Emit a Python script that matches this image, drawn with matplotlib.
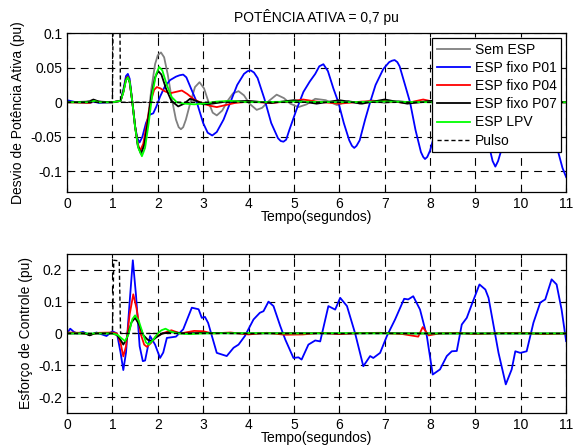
import numpy as np
from matplotlib import pyplot as plt

plt.rcParams['font.family'] = ['Liberation Sans', 'DejaVu Sans']

# ---- desvio de potencia ativa (painel de cima) ----
t_sem = [0, 0.4, 0.55, 0.65, 0.8, 1.0, 1.18, 1.24, 1.3, 1.34, 1.38, 1.44, 1.5, 1.56, 1.63, 1.7, 1.78, 1.86,
         1.94, 2.0, 2.07, 2.14, 2.22, 2.3, 2.4, 2.46, 2.51, 2.56, 2.62, 2.72, 2.82, 2.92, 3.02, 3.12, 3.21,
         3.3, 3.42, 3.55, 3.66, 3.78, 3.9, 4.02, 4.18, 4.3, 4.45, 4.62, 4.78, 4.92, 5.1, 5.28, 5.47, 5.7,
         5.95, 6.2, 6.45, 6.7, 7.0, 7.3, 7.6, 8.0, 8.5, 9.0, 9.5, 10.0, 10.5, 11.0]
p_sem = [0, 0, 0.003, 0.002, 0, 0, 0.002, 0.015, 0.034, 0.038, 0.03, 0.0, -0.035, -0.062, -0.075, -0.062,
         -0.025, 0.02, 0.055, 0.068, 0.072, 0.065, 0.04, 0.008, -0.025, -0.036, -0.039, -0.036, -0.025, 0.0,
         0.022, 0.029, 0.02, 0.0, -0.015, -0.019, -0.012, 0.003, 0.013, 0.016, 0.01, -0.002, -0.011, -0.008,
         0.002, 0.011, 0.006, -0.002, -0.007, -0.003, 0.005, 0.003, -0.004, 0.002, -0.002, 0.003, -0.001,
         0.002, -0.001, 0.001, 0, 0.001, 0, 0, 0, 0]

t_p01 = [0, 0.2, 0.5, 0.6, 0.7, 1.0, 1.18, 1.24, 1.3, 1.34, 1.38, 1.44, 1.5, 1.55, 1.6, 1.66, 1.74, 1.82,
         1.9, 1.97, 2.05, 2.15, 2.27, 2.4, 2.48, 2.56, 2.63, 2.7, 2.86, 3.0, 3.1, 3.2, 3.3, 3.45, 3.6, 3.75,
         3.9, 3.98, 4.05, 4.12, 4.2, 4.35, 4.5, 4.65, 4.71, 4.77, 4.83, 4.9, 5.05, 5.21, 5.35, 5.47, 5.56,
         5.65, 5.75, 5.87, 5.98, 6.1, 6.22, 6.28, 6.33, 6.38, 6.45, 6.57, 6.68, 6.8, 6.97, 7.1, 7.16, 7.22,
         7.28, 7.33, 7.45, 7.56, 7.68, 7.8, 7.85, 7.89, 7.94, 8.0, 8.15, 8.3, 8.5, 8.68, 8.85, 9.0, 9.15,
         9.29, 9.38, 9.44, 9.5, 9.55, 9.65, 9.8, 10.0, 10.2, 10.35, 10.5, 10.65, 10.83, 10.92, 11.0]
p_p01 = [0.003, 0.0, -0.001, 0.001, -0.001, 0.0, 0.002, 0.018, 0.038, 0.041, 0.034, 0.0, -0.035, -0.052,
         -0.058, -0.05, -0.03, -0.018, -0.016, -0.006, 0.008, 0.022, 0.032, 0.037, 0.039, 0.040, 0.036,
         0.025, 0.0, -0.03, -0.044, -0.048, -0.043, -0.025, 0.0, 0.025, 0.041, 0.045, 0.046, 0.043, 0.035,
         0.005, -0.03, -0.052, -0.056, -0.057, -0.054, -0.04, -0.012, 0.015, 0.03, 0.041, 0.052, 0.055, 0.045,
         0.02, 0.0, -0.03, -0.055, -0.063, -0.066, -0.063, -0.055, -0.025, 0.0, 0.025, 0.048, 0.058, 0.060,
         0.061, 0.058, 0.052, 0.025, 0.0, -0.04, -0.072, -0.079, -0.082, -0.079, -0.07, -0.035, 0.0, 0.045,
         0.066, 0.06, 0.03, -0.02, -0.06, -0.085, -0.093, -0.085, -0.074, -0.055, -0.02, 0.035, 0.072, 0.08,
         0.06, 0.005, -0.073, -0.095, -0.108]

t_p04 = [0, 0.5, 0.6, 0.7, 1.0, 1.18, 1.24, 1.3, 1.34, 1.38, 1.44, 1.5, 1.56, 1.61, 1.68, 1.76, 1.84, 1.92,
         1.98, 2.06, 2.15, 2.27, 2.4, 2.53, 2.65, 2.8, 3.0, 3.15, 3.3, 3.5, 3.7, 4.0, 4.5, 5.0, 5.2, 5.5, 6.0,
         6.5, 7.0, 7.5, 7.85, 8.2, 9.0, 10.0, 11.0]
p_p04 = [0, -0.001, 0.002, 0, 0, 0.002, 0.015, 0.034, 0.037, 0.03, 0.0, -0.035, -0.06, -0.07, -0.06, -0.03,
         0.0, 0.018, 0.022, 0.02, 0.016, 0.013, 0.015, 0.017, 0.012, 0.004, -0.002, -0.005, -0.007, -0.004,
         -0.001, 0.001, -0.001, 0.002, 0.004, 0.001, -0.002, 0.001, 0.002, -0.001, 0.004, -0.001, 0.001, 0, 0]

t_p07 = [0, 0.5, 0.58, 0.7, 1.0, 1.18, 1.24, 1.3, 1.34, 1.38, 1.44, 1.5, 1.56, 1.63, 1.7, 1.78, 1.86, 1.94,
         2.01, 2.08, 2.18, 2.3, 2.45, 2.58, 2.71, 2.85, 3.0, 3.2, 3.5, 4.0, 4.5, 5.0, 5.5, 6.0, 6.5, 7.0, 7.5,
         8.0, 9.0, 10.0, 11.0]
p_p07 = [0, 0.001, 0.004, 0.001, 0, 0.002, 0.015, 0.033, 0.036, 0.029, 0, -0.035, -0.063, -0.074, -0.062,
         -0.028, 0.01, 0.036, 0.045, 0.04, 0.02, 0.002, -0.006, -0.002, 0.005, 0.002, -0.003, -0.002, 0.001,
         0.002, -0.001, 0.003, -0.002, 0.003, -0.002, 0.004, -0.002, 0.002, 0, 0, 0]

t_lpv = [0, 0.5, 0.6, 0.7, 1.0, 1.18, 1.24, 1.3, 1.34, 1.38, 1.44, 1.5, 1.57, 1.65, 1.72, 1.8, 1.88, 1.96,
         2.03, 2.1, 2.2, 2.3, 2.42, 2.6, 2.8, 3.0, 3.3, 3.6, 4, 5, 6, 7, 8, 9, 10, 11]
p_lpv = [0, 0, 0.002, 0, 0, 0.002, 0.014, 0.032, 0.036, 0.03, 0.0, -0.036, -0.066, -0.078, -0.066, -0.03,
         0.012, 0.04, 0.051, 0.046, 0.025, 0.008, 0.0, -0.002, -0.003, -0.002, 0.001, 0.002, 0, 0.001, 0,
         0.001, 0, 0, 0, 0]

t_pulso = [0, 1.0, 1.03, 1.15, 1.18, 11]
v_pulso = [0, 0, 0.23, 0.228, 0, 0]

# ---- esforco de controle (painel de baixo) ----
t_u01 = [0, 0.07, 0.15, 0.22, 0.35, 0.5, 0.65, 0.87, 1.0, 1.1, 1.18, 1.24, 1.3, 1.37, 1.45, 1.52, 1.6, 1.67,
         1.72, 1.83, 1.94, 2.05, 2.12, 2.2, 2.4, 2.56, 2.75, 2.9, 2.97, 3.04, 3.11, 3.3, 3.52, 3.67, 3.78,
         3.92, 4.11, 4.25, 4.33, 4.44, 4.55, 4.7, 4.81, 4.99, 5.1, 5.17, 5.32, 5.47, 5.58, 5.76, 5.91, 6.02,
         6.17, 6.35, 6.53, 6.68, 6.75, 6.9, 7.05, 7.23, 7.43, 7.52, 7.63, 7.78, 7.93, 8.06, 8.22, 8.37, 8.48,
         8.59, 8.7, 8.81, 8.92, 9.09, 9.22, 9.29, 9.51, 9.67, 9.8, 9.88, 9.99, 10.13, 10.28, 10.43, 10.54,
         10.68, 10.79, 10.9, 11.0]
u_u01 = [0.0, 0.015, 0.005, 0.0, 0.005, -0.005, 0.003, -0.008, 0.007, 0.0, -0.06, -0.115, -0.06, 0.08,
         0.23, 0.12, -0.04, -0.087, -0.085, -0.008, -0.035, -0.077, -0.06, -0.014, -0.01, 0.013, 0.081, 0.076,
         0.049, 0.052, 0.033, -0.061, -0.071, -0.045, -0.035, -0.008, 0.044, 0.065, 0.07, 0.1, 0.086, 0.023,
         -0.019, -0.077, -0.075, -0.082, -0.035, -0.022, -0.025, 0.086, 0.075, 0.112, 0.086, 0.0, -0.103,
         -0.071, -0.077, -0.061, -0.008, 0.044, 0.109, 0.107, 0.117, 0.075, -0.008, -0.129, -0.113, -0.071,
         -0.056, -0.055, 0.028, 0.049, 0.091, 0.154, 0.138, 0.112, -0.061, -0.16, -0.113, -0.056, -0.061,
         -0.056, 0.034, 0.097, 0.107, 0.17, 0.154, 0.075, -0.024]

t_u04 = [0, 0.3, 0.5, 0.7, 1.0, 1.1, 1.18, 1.24, 1.3, 1.38, 1.46, 1.53, 1.62, 1.7, 1.76, 1.85, 1.95, 2.1,
         2.3, 2.5, 2.8, 3.0, 3.2, 3.6, 4.0, 4.4, 4.8, 5.2, 5.6, 6.0, 6.4, 6.9, 7.4, 7.74, 7.84, 7.97, 8.2, 8.6,
         9.0, 9.5, 10.0, 10.5, 11]
u_u04 = [0.003, 0.002, -0.004, 0.002, 0.003, 0.0, -0.03, -0.072, -0.04, 0.06, 0.123, 0.08, 0.0, -0.035,
         -0.042, -0.03, -0.01, 0.0, 0.01, 0.0, 0.008, 0.007, 0.0, 0.003, -0.003, 0.002, -0.004, -0.003, 0.002,
         -0.002, 0.001, 0.002, -0.002, -0.01, 0.02, -0.006, 0.0, 0.002, -0.002, 0.001, 0.002, -0.002, 0]

t_u07 = [0, 0.4, 0.5, 0.6, 1.0, 1.1, 1.18, 1.24, 1.32, 1.42, 1.5, 1.58, 1.68, 1.78, 1.87, 1.97, 2.1, 2.3,
         2.6, 3.0, 4, 5, 6, 7, 8, 9, 10, 11]
u_u07 = [0.0, 0.0, -0.006, 0.0, 0.0, -0.005, -0.02, -0.035, -0.015, 0.035, 0.049, 0.03, -0.005, -0.02,
         -0.024, -0.012, 0.0, 0.004, 0.0, 0.002, 0, 0.001, 0, 0.001, 0, 0, 0, 0]

t_ulpv = [0, 0.5, 1.0, 1.12, 1.2, 1.28, 1.36, 1.44, 1.5, 1.58, 1.67, 1.74, 1.8, 1.9, 2.0, 2.08, 2.17, 2.3,
          2.45, 2.7, 3, 4, 5, 6, 7, 8, 9, 10, 11]
u_ulpv = [0.0, 0.0, 0.0, -0.005, -0.015, -0.024, 0.0, 0.045, 0.057, 0.04, 0.0, -0.028, -0.035, -0.02, 0.0,
          0.01, 0.015, 0.005, 0.0, -0.002, 0, 0.001, 0, 0.001, 0, 0, 0, 0, 0]

xticks = np.arange(0, 12)

fig = plt.figure(figsize=(5.73, 4.47), dpi=100)
ax1 = fig.add_axes([0.117, 0.570, 0.871, 0.356])
ax2 = fig.add_axes([0.117, 0.076, 0.871, 0.356])

lw = 1.3
ax1.plot(t_sem, p_sem, color='#808080', lw=lw, label='Sem ESP')
ax1.plot(t_p01, p_p01, color='#0000ff', lw=lw, label='ESP fixo P01')
ax1.plot(t_p04, p_p04, color='#ff0000', lw=lw, label='ESP fixo P04')
ax1.plot(t_p07, p_p07, color='black', lw=lw, label='ESP fixo P07')
ax1.plot(t_lpv, p_lpv, color='#00ff00', lw=lw, label='ESP LPV')
ax1.plot(t_pulso, v_pulso, color='black', lw=1.0, linestyle=(0, (3, 2)), label='Pulso')

ax2.plot(t_u01, u_u01, color='#0000ff', lw=lw)
ax2.plot(t_u04, u_u04, color='#ff0000', lw=lw)
ax2.plot(t_u07, u_u07, color='black', lw=lw)
ax2.plot(t_ulpv, u_ulpv, color='#00ff00', lw=lw)
ax2.plot(t_pulso, v_pulso, color='black', lw=1.0, linestyle=(0, (3, 2)))

ax1.set_xlim(0, 11)
ax1.set_ylim(-0.13, 0.1)
ax1.set_yticks([-0.1, -0.05, 0, 0.05, 0.1])
ax1.set_yticklabels(['-0.1', '-0.05', '0', '0.05', '0.1'])
ax2.set_xlim(0, 11)
ax2.set_ylim(-0.25, 0.25)
ax2.set_yticks([-0.2, -0.1, 0, 0.1, 0.2])
ax2.set_yticklabels(['-0.2', '-0.1', '0', '0.1', '0.2'])

for ax in (ax1, ax2):
    ax.set_xticks(xticks)
    ax.grid(True, color='black', linestyle=(0, (7, 5)), lw=0.8)
    ax.set_axisbelow(True)
    ax.tick_params(direction='in', top=True, right=True, labelsize=10, length=3)
    ax.set_xlabel('Tempo(segundos)', fontsize=10, labelpad=-1)
    for s in ax.spines.values():
        s.set_linewidth(0.9)

ax1.set_ylabel('Desvio de Potência Ativa (pu)', fontsize=10)
ax2.set_ylabel('Esforço de Controle (pu)', fontsize=10)
ax1.set_title('POTÊNCIA ATIVA = 0,7 pu', fontsize=10, pad=8)

leg = ax1.legend(loc='upper right', fontsize=10, fancybox=False, framealpha=1, edgecolor='black',
                 handlelength=2.4, labelspacing=0.3, borderpad=0.35, handletextpad=0.3,
                 borderaxespad=0.35)
leg.get_frame().set_linewidth(0.9)

fig.savefig('out.png', dpi=100)
